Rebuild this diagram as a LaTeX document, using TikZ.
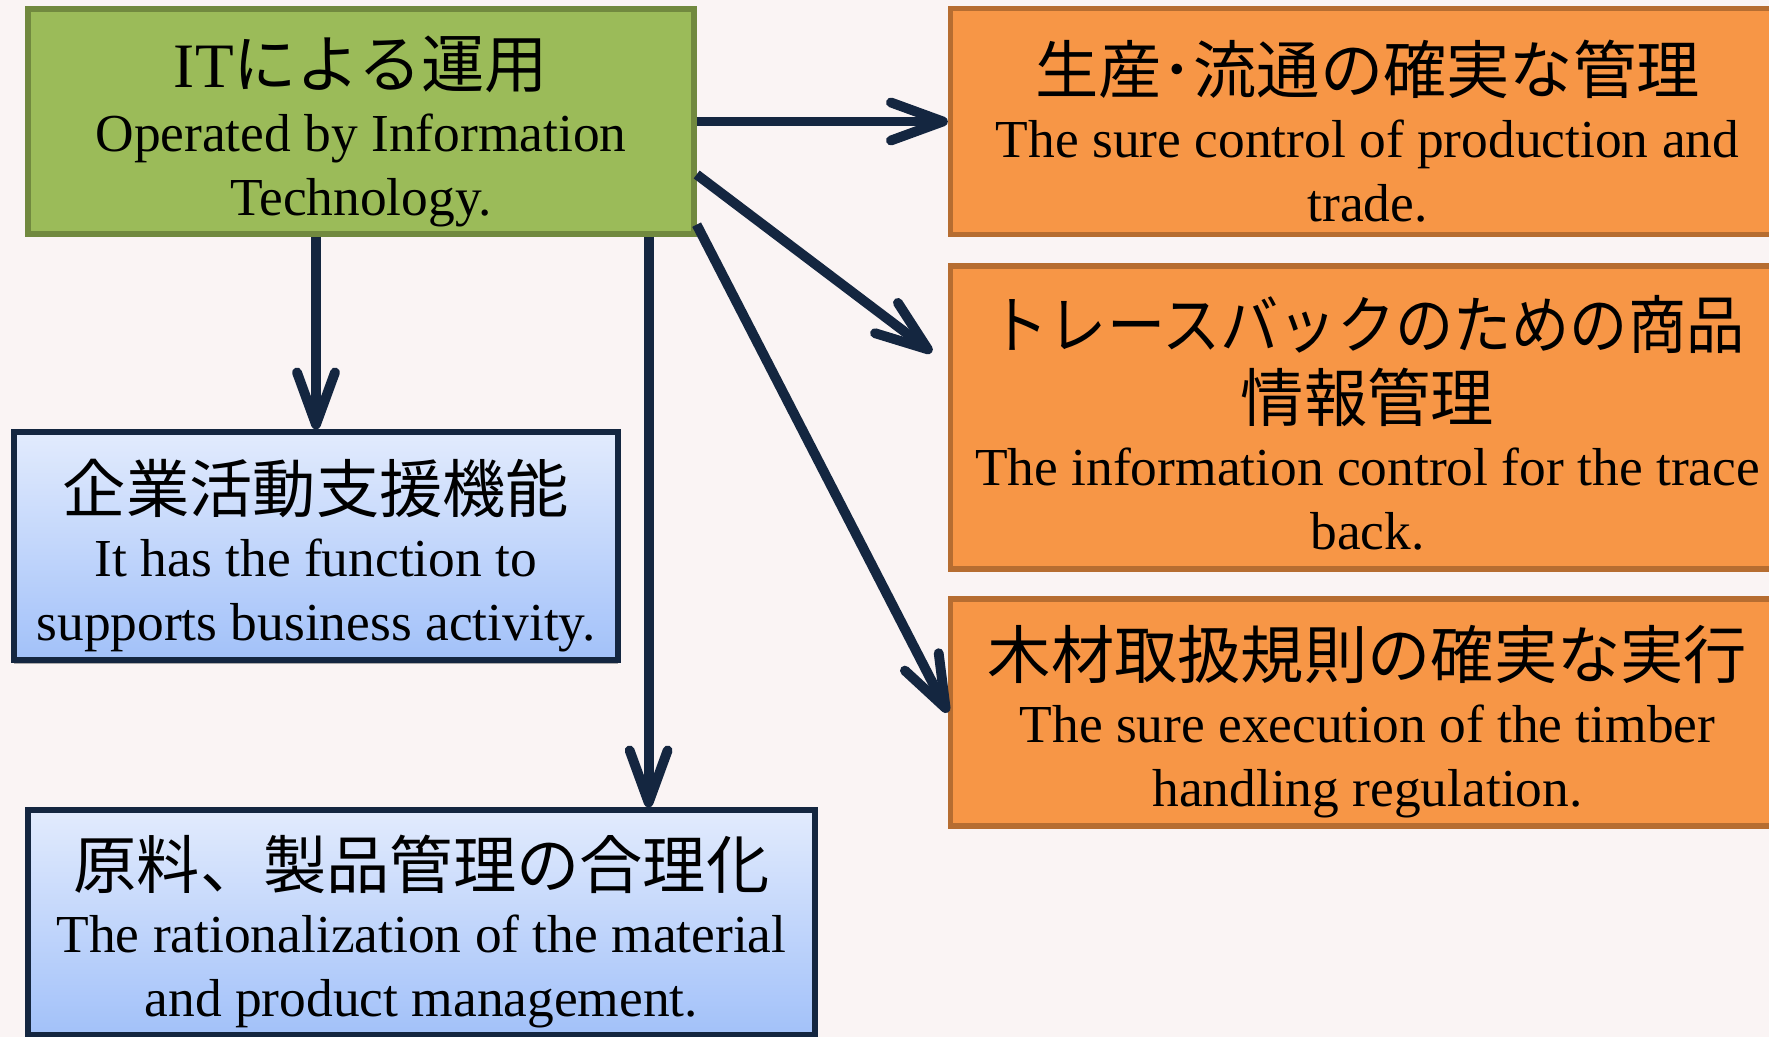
\documentclass[tikz,border=0pt]{standalone}
\usepackage{fontspec}
\setmainfont{Liberation Serif}
\newfontfamily\jp{Noto Sans CJK JP}
\newfontfamily\jpnarrow[FakeStretch=0.92]{Noto Sans CJK JP}
\usetikzlibrary{arrows.meta,shadows}

\definecolor{bgpink}{RGB}{250,244,244}
\definecolor{navy}{RGB}{20,38,64}
\definecolor{itfill}{RGB}{155,187,89}
\definecolor{itborder}{RGB}{113,137,63}
\definecolor{orfill}{RGB}{247,150,70}
\definecolor{orborder}{RGB}{182,109,49}
\definecolor{bluetop}{RGB}{226,235,253}
\definecolor{bluebot}{RGB}{162,193,249}

\newcommand\jtitle[1]{{\jp\fontsize{18}{18.2}\selectfont #1}}
\newcommand\lift{\rule{0pt}{20.5pt}}

\tikzset{
  box/.style={rectangle, line width=1.5pt, align=center, inner sep=0pt,
    font=\fontsize{15.2}{18.2}\selectfont},
  greenbox/.style={box, draw=itborder, fill=itfill},
  bluebox/.style={box, draw=navy, top color=bluetop, bottom color=bluebot},
  orangebox/.style={box, draw=orborder, fill=orfill, minimum width=8.34cm},
  link/.style={draw=navy, line width=2.8pt,
    -{Straight Barb[length=5.2mm,width=3.8mm,round]}}
}

\begin{document}
\begin{tikzpicture}
  \fill[bgpink] (0,0) rectangle (17.69,-10.37);
  \useasboundingbox (0,0) rectangle (17.69,-10.37);

  % left column
  \node[greenbox, minimum width=6.66cm, minimum height=2.25cm] (it) at (3.61,-1.215)
    {\lift{\fontsize{18}{18.2}\selectfont IT{\jp による運用}}\\
     Operated by Information\\ Technology.};
  \node[bluebox, minimum width=6.04cm, minimum height=2.28cm,
    drop shadow={shadow xshift=0pt, shadow yshift=-1pt, fill=black!45, opacity=0.7}]
    (support) at (3.16,-5.46)
    {\lift\jtitle{企業活動支援機能}\\
     It has the function to\\ supports business activity.};
  \node[bluebox, minimum width=7.87cm, minimum height=2.25cm] (ratio) at (4.215,-9.225)
    {\lift\jtitle{原料、製品管理の合理化}\\
     The rationalization of the material\\ and product management.};

  % right column
  \node[orangebox, minimum height=2.26cm] (sure) at (13.675,-1.215)
    {\lift\jtitle{生産･流通の確実な管理}\\
     The sure control of production and\\ trade.};
  \node[orangebox, minimum height=3.03cm] (trace) at (13.675,-4.175)
    {\rule{0pt}{18pt}{\jpnarrow\fontsize{18}{18.2}\selectfont トレースバックのための商品}\\[2.5pt]
     \jtitle{情報管理}\\
     The information control for the trace\\ back.};
  \node[orangebox, minimum height=2.27cm] (timber) at (13.675,-7.125)
    {\lift\jtitle{木材取扱規則の確実な実行}\\
     The sure execution of the timber\\ handling regulation.};

  % arrows
  \coordinate (drop) at ([xshift=-4.8mm]it.south east);
  \draw[link] (it.east) -- (sure.west);
  \draw[link] ([yshift=-5.3mm]it.east) -- ([xshift=-1.6mm,yshift=-8.9mm]trace.north west);
  \draw[link] ([yshift=1.2mm]it.south east) -- (timber.west);
  \draw[link] (it.south -| support.north) -- (support.north);
  \draw[link] (drop) -- (drop |- ratio.north);
\end{tikzpicture}
\end{document}
